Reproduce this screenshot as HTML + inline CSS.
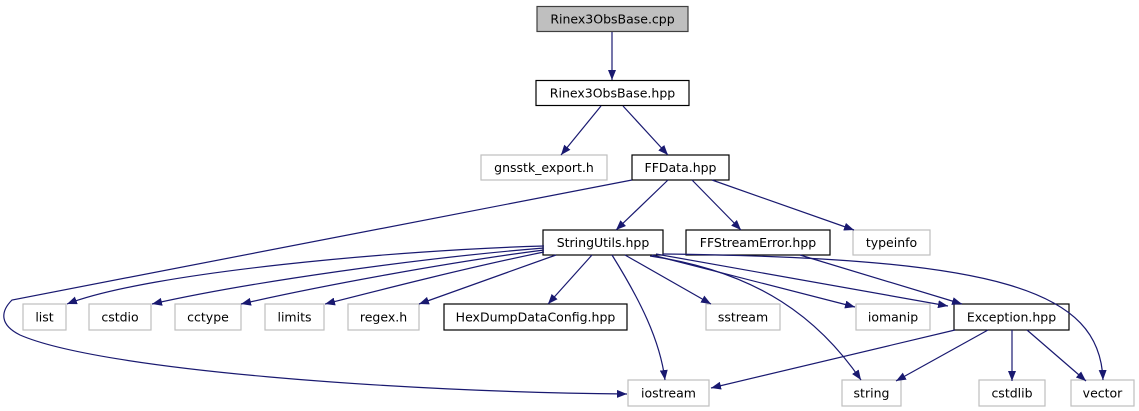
<!DOCTYPE html>
<html><head><meta charset="utf-8"><style>
html,body{margin:0;padding:0;background:#fff;width:1139px;height:411px;overflow:hidden}
svg text{font-family:"DejaVu Sans","Liberation Sans",sans-serif;font-size:12.5px;fill:#000}
</style></head><body>
<svg width="1139" height="411" viewBox="0 0 1139 411" xmlns="http://www.w3.org/2000/svg">
<defs><marker id="a" viewBox="0 0 10 8" refX="10" refY="4" markerWidth="10" markerHeight="8" markerUnits="userSpaceOnUse" orient="auto"><path d="M0,0L10,4L0,8z" fill="#191970"/></marker></defs>
<g stroke-width="1.2">
<rect x="537" y="6.5" width="151" height="25" fill="#bfbfbf" stroke="#404040"/>
<rect x="536" y="80.5" width="153" height="25" fill="#fff" stroke="#000"/>
<rect x="481" y="155" width="126" height="25" fill="#fff" stroke="#bfbfbf"/>
<rect x="632" y="155" width="97" height="25" fill="#fff" stroke="#000"/>
<rect x="543" y="230" width="120" height="25" fill="#fff" stroke="#000"/>
<rect x="686" y="230" width="144" height="25" fill="#fff" stroke="#000"/>
<rect x="853" y="230" width="77" height="25" fill="#fff" stroke="#bfbfbf"/>
<rect x="23" y="304" width="43" height="26" fill="#fff" stroke="#bfbfbf"/>
<rect x="89" y="304" width="62" height="26" fill="#fff" stroke="#bfbfbf"/>
<rect x="175" y="304" width="66" height="26" fill="#fff" stroke="#bfbfbf"/>
<rect x="265" y="304" width="59" height="26" fill="#fff" stroke="#bfbfbf"/>
<rect x="348" y="304" width="71" height="26" fill="#fff" stroke="#bfbfbf"/>
<rect x="444" y="304" width="183" height="26" fill="#fff" stroke="#000"/>
<rect x="706" y="304" width="74" height="26" fill="#fff" stroke="#bfbfbf"/>
<rect x="856" y="304" width="74" height="26" fill="#fff" stroke="#bfbfbf"/>
<rect x="954" y="304" width="115" height="26" fill="#fff" stroke="#000"/>
<rect x="628" y="380" width="81" height="26" fill="#fff" stroke="#bfbfbf"/>
<rect x="842" y="380" width="59" height="26" fill="#fff" stroke="#bfbfbf"/>
<rect x="979" y="380" width="66" height="26" fill="#fff" stroke="#bfbfbf"/>
<rect x="1071" y="380" width="63" height="26" fill="#fff" stroke="#bfbfbf"/>
</g>
<g fill="none" stroke="#191970" stroke-width="1.2" marker-end="url(#a)">
<path d="M612,32L612,80"/>
<path d="M601,106L561,155"/>
<path d="M623,106L668,155"/>
<path d="M668,180L616,230"/>
<path d="M692,180L741,230"/>
<path d="M712,180L854,230"/>
<path d="M632,180L12,300C0,312 0,325 20,335C100,370 400,392 627,394"/>
<path d="M544,246C400,250 150,272 67,304"/>
<path d="M544,248C420,258 250,282 152,304"/>
<path d="M544,250C450,262 320,286 241,304"/>
<path d="M544,252C470,267 380,290 325,304"/>
<path d="M556,255L419,304"/>
<path d="M592,255L548,304"/>
<path d="M612,255C640,300 660,340 665,380"/>
<path d="M625,255L711,304"/>
<path d="M650,256C760,272 820,320 861,380"/>
<path d="M652,255L855,307"/>
<path d="M656,254L948,306"/>
<path d="M663,254C1000,258 1100,290 1103,380"/>
<path d="M800,255L962,304"/>
<path d="M955,330L711,388"/>
<path d="M988,330L896,381"/>
<path d="M1012,330L1012,381"/>
<path d="M1027,330L1086,381"/>
</g>
<g text-anchor="middle">
<text x="612.5" y="23.5">Rinex3ObsBase.cpp</text>
<text x="612.5" y="97.5">Rinex3ObsBase.hpp</text>
<text x="544" y="172">gnsstk_export.h</text>
<text x="680.5" y="172">FFData.hpp</text>
<text x="603" y="247">StringUtils.hpp</text>
<text x="758" y="247">FFStreamError.hpp</text>
<text x="891.5" y="247">typeinfo</text>
<text x="44.5" y="321.5">list</text>
<text x="120" y="321.5">cstdio</text>
<text x="208" y="321.5">cctype</text>
<text x="294.5" y="321.5">limits</text>
<text x="383.5" y="321.5">regex.h</text>
<text x="535.5" y="321.5">HexDumpDataConfig.hpp</text>
<text x="743" y="321.5">sstream</text>
<text x="893" y="321.5">iomanip</text>
<text x="1011.5" y="321.5">Exception.hpp</text>
<text x="668.5" y="397.5">iostream</text>
<text x="871.5" y="397.5">string</text>
<text x="1012" y="397.5">cstdlib</text>
<text x="1102.5" y="397.5">vector</text>
</g>
</svg>
</body></html>
